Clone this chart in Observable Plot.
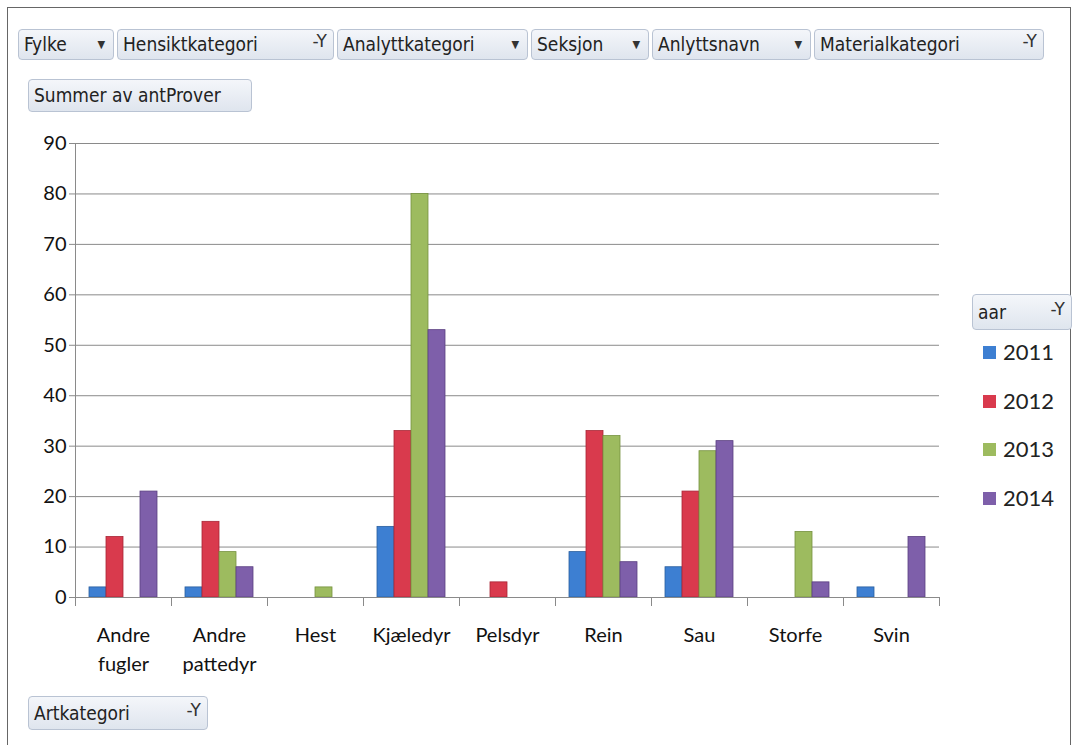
<!DOCTYPE html>
<html>
<head>
<meta charset="utf-8">
<script src="https://cdn.jsdelivr.net/npm/d3@7"></script>
<script src="https://cdn.jsdelivr.net/npm/@observablehq/plot@0.6"></script>
<style>
  html, body { margin: 0; padding: 0; background: #fff; }
  #wrap { position: relative; width: 1079px; height: 745px; overflow: hidden; background: #fff; }
  #border { position: absolute; left: 7px; top: 7px; width: 1064px; height: 745px; border: 1.5px solid #666; box-sizing: border-box; }
  .btn { position: absolute; height: 31px; box-sizing: border-box; border: 1px solid #b9c3d3; border-radius: 4px;
         background: linear-gradient(#f4f6fa, #dfe5ee); font-family: "Liberation Sans Narrow", "DejaVu Sans Condensed", sans-serif;
         font-size: 19px; color: #222; line-height: 29px; padding-left: 5px; white-space: nowrap; }
  .btn .arr { position: absolute; right: 8px; top: 0; font-size: 11px; color: #333; }
  .btn .flt { position: absolute; right: 6px; top: -3px; font-size: 17px; color: #333; font-family: "DejaVu Sans", sans-serif; }
  #chart { position: absolute; left: 0; top: 130px; }
  .leg { position: absolute; left: 983px; font-family: Lato, "Open Sans", sans-serif; font-size: 22px; color: #222; }
  .leg span.sw { display: inline-block; width: 13px; height: 13px; margin-right: 7px; vertical-align: 1px; }
</style>
</head>
<body>
<div id="wrap">
  <div id="border"></div>
  <div class="btn" style="left:18px;top:29px;width:96px;">Fylke<span class="arr">▼</span></div>
  <div class="btn" style="left:117px;top:29px;width:217px;">Hensiktkategori<span class="flt">-Y</span></div>
  <div class="btn" style="left:337px;top:29px;width:191px;">Analyttkategori<span class="arr">▼</span></div>
  <div class="btn" style="left:531px;top:29px;width:118px;">Seksjon<span class="arr">▼</span></div>
  <div class="btn" style="left:652px;top:29px;width:159px;">Anlyttsnavn<span class="arr">▼</span></div>
  <div class="btn" style="left:814px;top:29px;width:230px;">Materialkategori<span class="flt">-Y</span></div>
  <div class="btn" style="left:28px;top:79px;width:224px;height:33px;line-height:31px;">Summer av antProver</div>
  <div class="btn" style="left:28px;top:696px;width:180px;height:34px;line-height:32px;">Artkategori<span class="flt">-Y</span></div>
  <div class="btn" style="left:972px;top:294px;width:100px;height:36px;line-height:34px;">aar<span class="flt">-Y</span></div>
  <div id="chart"></div>
  <div id="legend"></div>
</div>
<script>
const categories = ["Andre fugler", "Andre pattedyr", "Hest", "Kjæledyr", "Pelsdyr", "Rein", "Sau", "Storfe", "Svin"];
const categoryLabels = ["Andre\nfugler", "Andre\npattedyr", "Hest", "Kjæledyr", "Pelsdyr", "Rein", "Sau", "Storfe", "Svin"];
const years = ["2011", "2012", "2013", "2014"];
const values2011 = [2, 2, 0, 14, 0, 9, 6, 0, 2];
const values2012 = [12, 15, 0, 33, 3, 33, 21, 0, 0];
const values2013 = [0, 9, 2, 80, 0, 32, 29, 13, 0];
const values2014 = [21, 6, 0, 53, 0, 7, 31, 3, 12];
const yTicks = [0, 10, 20, 30, 40, 50, 60, 70, 80, 90];
const colors = ["#3d7fd2", "#d93a4d", "#9dbb5f", "#7e5faa"];
const borders = ["#2a5f9e", "#a82636", "#76923f", "#5a3f80"];

const series = [values2011, values2012, values2013, values2014];
const rows = [];
categories.forEach((c, i) => years.forEach((y, j) => {
  if (series[j][i] > 0) rows.push({cat: c, year: y, value: series[j][i]});
}));

const H = 545, MT = 13, MB = 78;
const plotH = H - MT - MB;

const chart = Plot.plot({
  width: 960,
  height: H,
  marginLeft: 74,
  marginRight: 20,
  marginTop: MT,
  marginBottom: MB,
  style: {fontFamily: "Lato, 'Open Sans', sans-serif", color: "#111", background: "transparent"},
  fx: {domain: categories, padding: 0},
  x: {domain: years, paddingInner: 0, paddingOuter: 0.75, axis: null},
  y: {domain: [0, 90]},
  color: {domain: years, range: colors},
  marks: [
    Plot.gridY(yTicks, {stroke: "#8a8a8a", strokeOpacity: 1, strokeWidth: 1}),
    Plot.axisY(yTicks, {tickSize: 6, tickPadding: 3, fontSize: 20, stroke: "#8a8a8a", label: null, fill: "#111"}),
    Plot.axisFx({anchor: "bottom", tickSize: 0, tickPadding: 24, fontSize: 20, lineHeight: 1.45, label: null, fill: "#111",
                 tickFormat: d => categoryLabels[categories.indexOf(d)]}),
    Plot.barY(rows, {fx: "cat", x: "year", y: "value", fill: "year",
                     stroke: d => borders[years.indexOf(d.year)], strokeWidth: 0.8}),
    Plot.ruleY([0], {stroke: "#8a8a8a", strokeWidth: 1.2}),
    Plot.frame({anchor: "left", insetTop: plotH, insetBottom: -8, stroke: "#8a8a8a"}),
    Plot.frame({anchor: "right", insetTop: plotH, insetBottom: -8, stroke: "#8a8a8a"}),
    Plot.frame({anchor: "left", fx: [categories[0]], stroke: "#8a8a8a"})
  ]
});
document.getElementById("chart").appendChild(chart);

const leg = document.getElementById("legend");
years.forEach((y, i) => {
  const d = document.createElement("div");
  d.className = "leg";
  d.style.top = (338 + i * 48.5) + "px";
  d.innerHTML = `<span class="sw" style="background:${colors[i]}"></span>${y}`;
  leg.appendChild(d);
});
</script>
</body>
</html>
